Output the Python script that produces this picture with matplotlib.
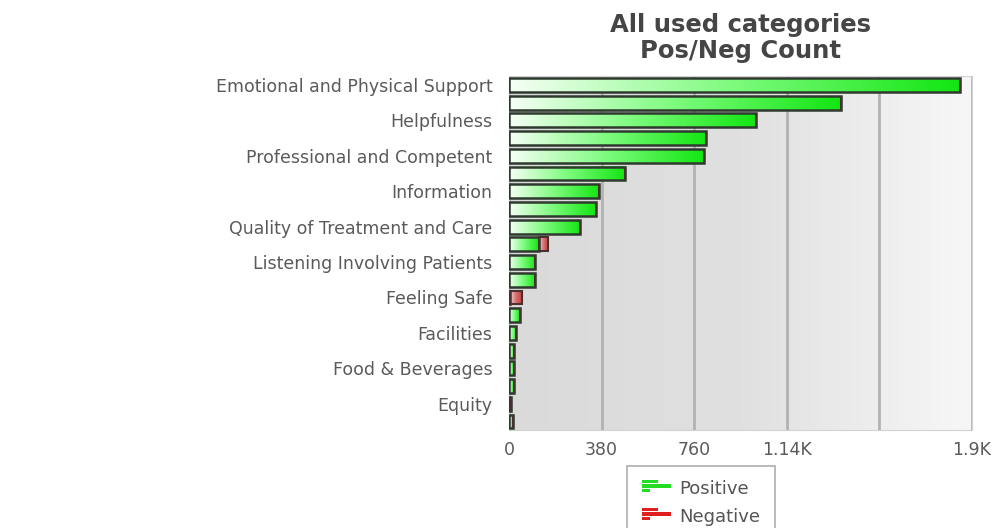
import numpy as np
import matplotlib
matplotlib.use("Agg")
import matplotlib.pyplot as plt
from matplotlib.colors import LinearSegmentedColormap
from matplotlib.patches import Patch, Rectangle
from matplotlib.legend_handler import HandlerBase

# only every other category name is printed on the chart
categories = ["Emotional and Physical Support", "",
              "Helpfulness", "",
              "Professional and Competent", "",
              "Information", "",
              "Quality of Treatment and Care", "",
              "Listening Involving Patients", "",
              "Feeling Safe", "",
              "Facilities", "",
              "Food & Beverages", "",
              "Equity", ""]
positive = [1849, 1364, 1015, 809, 801, 477, 370, 357, 292, 123,
            107, 107, 3, 45, 29, 22, 20, 20, 10, 18]
negative = [0, 0, 0, 0, 0, 0, 0, 0, 0, 37,
            0, 0, 50, 0, 0, 0, 0, 0, 0, 0]
xticks = [0, 380, 760, 1140, 1520, 1900]
xticklabels = ["0", "380", "760", "1.14K", "", "1.9K"]

green_cmap = LinearSegmentedColormap.from_list("g", ["#f6fff6", "#7dfb7d", "#12e612"])
red_cmap = LinearSegmentedColormap.from_list("r", ["#f3d0d0", "#d46a6a", "#c03a3a"])
bg_cmap = LinearSegmentedColormap.from_list("bg", ["#dadada", "#e0e0e0", "#f7f7f7"])
grad = np.linspace(0, 1, 256).reshape(1, -1)


class BarIcon(HandlerBase):
    # small "bar chart" glyph like the original legend
    def __init__(self, color):
        super().__init__()
        self.color = color

    def create_artists(self, legend, orig_handle, xdescent, ydescent,
                       width, height, fontsize, trans):
        arts = []
        h = height / 3.6
        for i, frac in enumerate([0.55, 1.0, 0.3]):
            y = height * 1.2 - (i + 1) * h * 1.25
            arts.append(Rectangle((-xdescent, y - ydescent), width * frac, h,
                                  facecolor=self.color, edgecolor="none",
                                  transform=trans))
        return arts


fig = plt.figure(figsize=(10.02, 5.28), dpi=100)
ax = fig.add_axes([0.508, 0.185, 0.462, 0.671])

ypos = np.arange(len(categories))

# plot area background
ax.imshow(grad, cmap=bg_cmap, extent=[0, 1, 0, 1], transform=ax.transAxes,
          aspect="auto", zorder=0)

bh = 0.78
for y, p, n in zip(ypos, positive, negative):
    if p > 0:
        ax.imshow(grad, cmap=green_cmap, extent=[0, p, y + bh / 2, y - bh / 2],
                  aspect="auto", zorder=3)
    if n > 0:
        ax.imshow(grad, cmap=red_cmap, extent=[p, p + n, y + bh / 2, y - bh / 2],
                  aspect="auto", zorder=3)
ax.barh(ypos, positive, height=bh, facecolor="none", edgecolor="#2e3a2e",
        linewidth=1.8, zorder=4)
ax.barh(ypos, negative, left=positive, height=bh, facecolor="none",
        edgecolor="#4a3030", linewidth=1.5, zorder=4)
ax.set_xlim(0, 1900)
ax.set_ylim(len(categories) - 0.5, -0.5)

ax.set_xticks(xticks)
ax.set_xticklabels(xticklabels)
ax.set_yticks(ypos)
ax.set_yticklabels(categories)
ax.tick_params(length=0, labelsize=12.5, labelcolor="#5a5a5a")
ax.tick_params(axis="y", pad=12)
ax.tick_params(axis="x", pad=8)
ax.set_axisbelow(True)
ax.grid(axis="x", color="#b2b2b2", linewidth=2)
for s in ax.spines.values():
    s.set_color("#d2d2d2")

fig.text(0.739, 0.975, "All used categories\nPos/Neg Count", ha="center",
         va="top", fontsize=17.5, fontweight="bold", color="#454545",
         linespacing=1.1)

hp = Patch(color="#22dd22")
hn = Patch(color="#dd2222")
leg = fig.legend([hp, hn], ["Positive", "Negative"], loc="upper left",
                 bbox_to_anchor=(0.626, 0.118), frameon=True, fancybox=False,
                 edgecolor="#9a9a9a", fontsize=13, labelcolor="#555555",
                 handlelength=1.6, handletextpad=0.5, borderpad=0.8,
                 labelspacing=0.55, borderaxespad=0,
                 handler_map={hp: BarIcon("#22dd22"), hn: BarIcon("#e02020")})
leg.get_frame().set_linewidth(1.2)

fig.savefig("out.png", dpi=100)
